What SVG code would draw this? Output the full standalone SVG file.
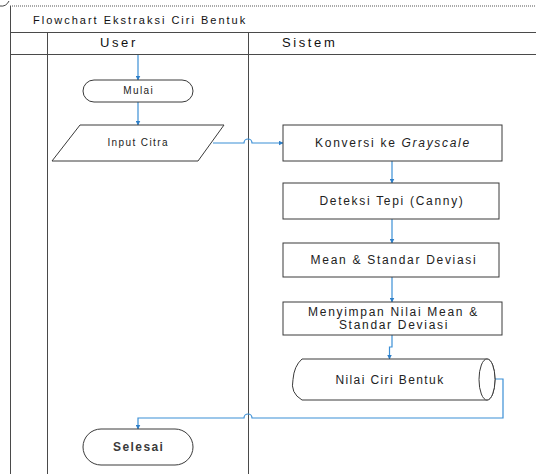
<svg xmlns="http://www.w3.org/2000/svg" width="536" height="474" viewBox="0 0 536 474">
<defs>
<style>
.frame{fill:none;stroke:#4a4a4a;stroke-width:1}
.shape{fill:#fff;stroke:#3a3a3a;stroke-width:1}
.conn{fill:none;stroke:#3b8fd6;stroke-width:1.2}
.t{font-family:"Liberation Sans",Arial,sans-serif;font-size:12px;fill:#222;text-anchor:middle;letter-spacing:1.7px}
.u{font-family:"Liberation Sans",Arial,sans-serif;font-size:10px;fill:#222;text-anchor:middle;letter-spacing:1.4px}
.h{font-family:"Liberation Sans",Arial,sans-serif;font-size:13px;fill:#111;letter-spacing:2.6px}
</style>
<marker id="ah" viewBox="0 0 10 10" refX="9" refY="5" markerWidth="5" markerHeight="5" orient="auto" markerUnits="userSpaceOnUse">
<path d="M0,0 L10,5 L0,10 z" fill="#2e7fc8"/>
</marker>
</defs>
<rect width="536" height="474" fill="#fff"/>
<g id="swimlane">
<path d="M0,6 Q6,7 9,1" fill="none" stroke="#444" stroke-width="1"/>
<line x1="10" y1="6" x2="536" y2="6" stroke="#555" stroke-width="1.2" stroke-dasharray="1,1"/>
<line class="frame" x1="10.5" y1="6" x2="10.5" y2="474"/>
<line class="frame" x1="47.5" y1="32" x2="47.5" y2="474"/>
<line class="frame" x1="248.5" y1="32" x2="248.5" y2="474"/>
<line class="frame" x1="10" y1="32.5" x2="536" y2="32.5"/>
<line class="frame" x1="10" y1="54.5" x2="536" y2="54.5"/>
<text x="33" y="24" class="h" style="font-size:11px;letter-spacing:2px">Flowchart Ekstraksi Ciri Bentuk</text>
<text x="100" y="47" class="h">User</text>
<text x="282" y="47" class="h">Sistem</text>
</g>
<g id="connectors">
<line class="conn" x1="138" y1="55" x2="138" y2="80" marker-end="url(#ah)"/>
<line class="conn" x1="138" y1="102" x2="138" y2="125" marker-end="url(#ah)"/>
<path class="conn" d="M213,143 H244 A4,4 0 0 1 252,143 H283" marker-end="url(#ah)"/>
<line class="conn" x1="392" y1="161" x2="392" y2="183" marker-end="url(#ah)"/>
<line class="conn" x1="392" y1="219" x2="392" y2="243" marker-end="url(#ah)"/>
<line class="conn" x1="392" y1="277" x2="392" y2="302" marker-end="url(#ah)"/>
<path class="conn" d="M392,335 V347 H389.5 V359" marker-end="url(#ah)"/>
<path class="conn" d="M494,379 H503 V418 H252 A4,4 0 0 0 244,418 H138 V429" marker-end="url(#ah)"/>
</g>
<g id="mulai">
<rect class="shape" x="83" y="80" width="110" height="22" rx="11"/>
<text x="138.7" y="94" class="u">Mulai</text>
</g>
<g id="input-citra">
<polygon class="shape" points="80,125 224,125 198,161 52,161"/>
<text x="138.2" y="146" class="u">Input Citra</text>
</g>
<g id="konversi">
<rect class="shape" x="283" y="125" width="219" height="36"/>
<text x="393" y="147" class="t">Konversi ke <tspan font-style="italic">Grayscale</tspan></text>
</g>
<g id="deteksi">
<rect class="shape" x="283" y="183" width="216" height="36"/>
<text x="392" y="205" class="t">Deteksi Tepi (Canny)</text>
</g>
<g id="mean">
<rect class="shape" x="283" y="243" width="216" height="34"/>
<text x="394" y="264" class="t">Mean &amp; Standar Deviasi</text>
</g>
<g id="menyimpan">
<rect class="shape" x="283" y="302" width="219" height="33"/>
<text x="393.5" y="316" class="t">Menyimpan Nilai Mean &amp;</text>
<text x="394" y="329" class="t">Standar Deviasi</text>
</g>
<g id="nilai-ciri">
<path class="shape" d="M302,359 H487 A8,20.5 0 0 1 487,400 H302 Q290,393 293,379.5 Q294,366 302,359 Z"/>
<ellipse class="shape" cx="487" cy="379.5" rx="8" ry="20.5"/>
<text x="390" y="384" class="t" style="letter-spacing:1.4px">Nilai Ciri Bentuk</text>
</g>
<g id="selesai">
<rect class="shape" x="83" y="429" width="110" height="36" rx="18"/>
<text x="138.7" y="451" class="t" style="font-weight:bold;fill:#3a3a3a;letter-spacing:1.4px">Selesai</text>
</g>
</svg>
